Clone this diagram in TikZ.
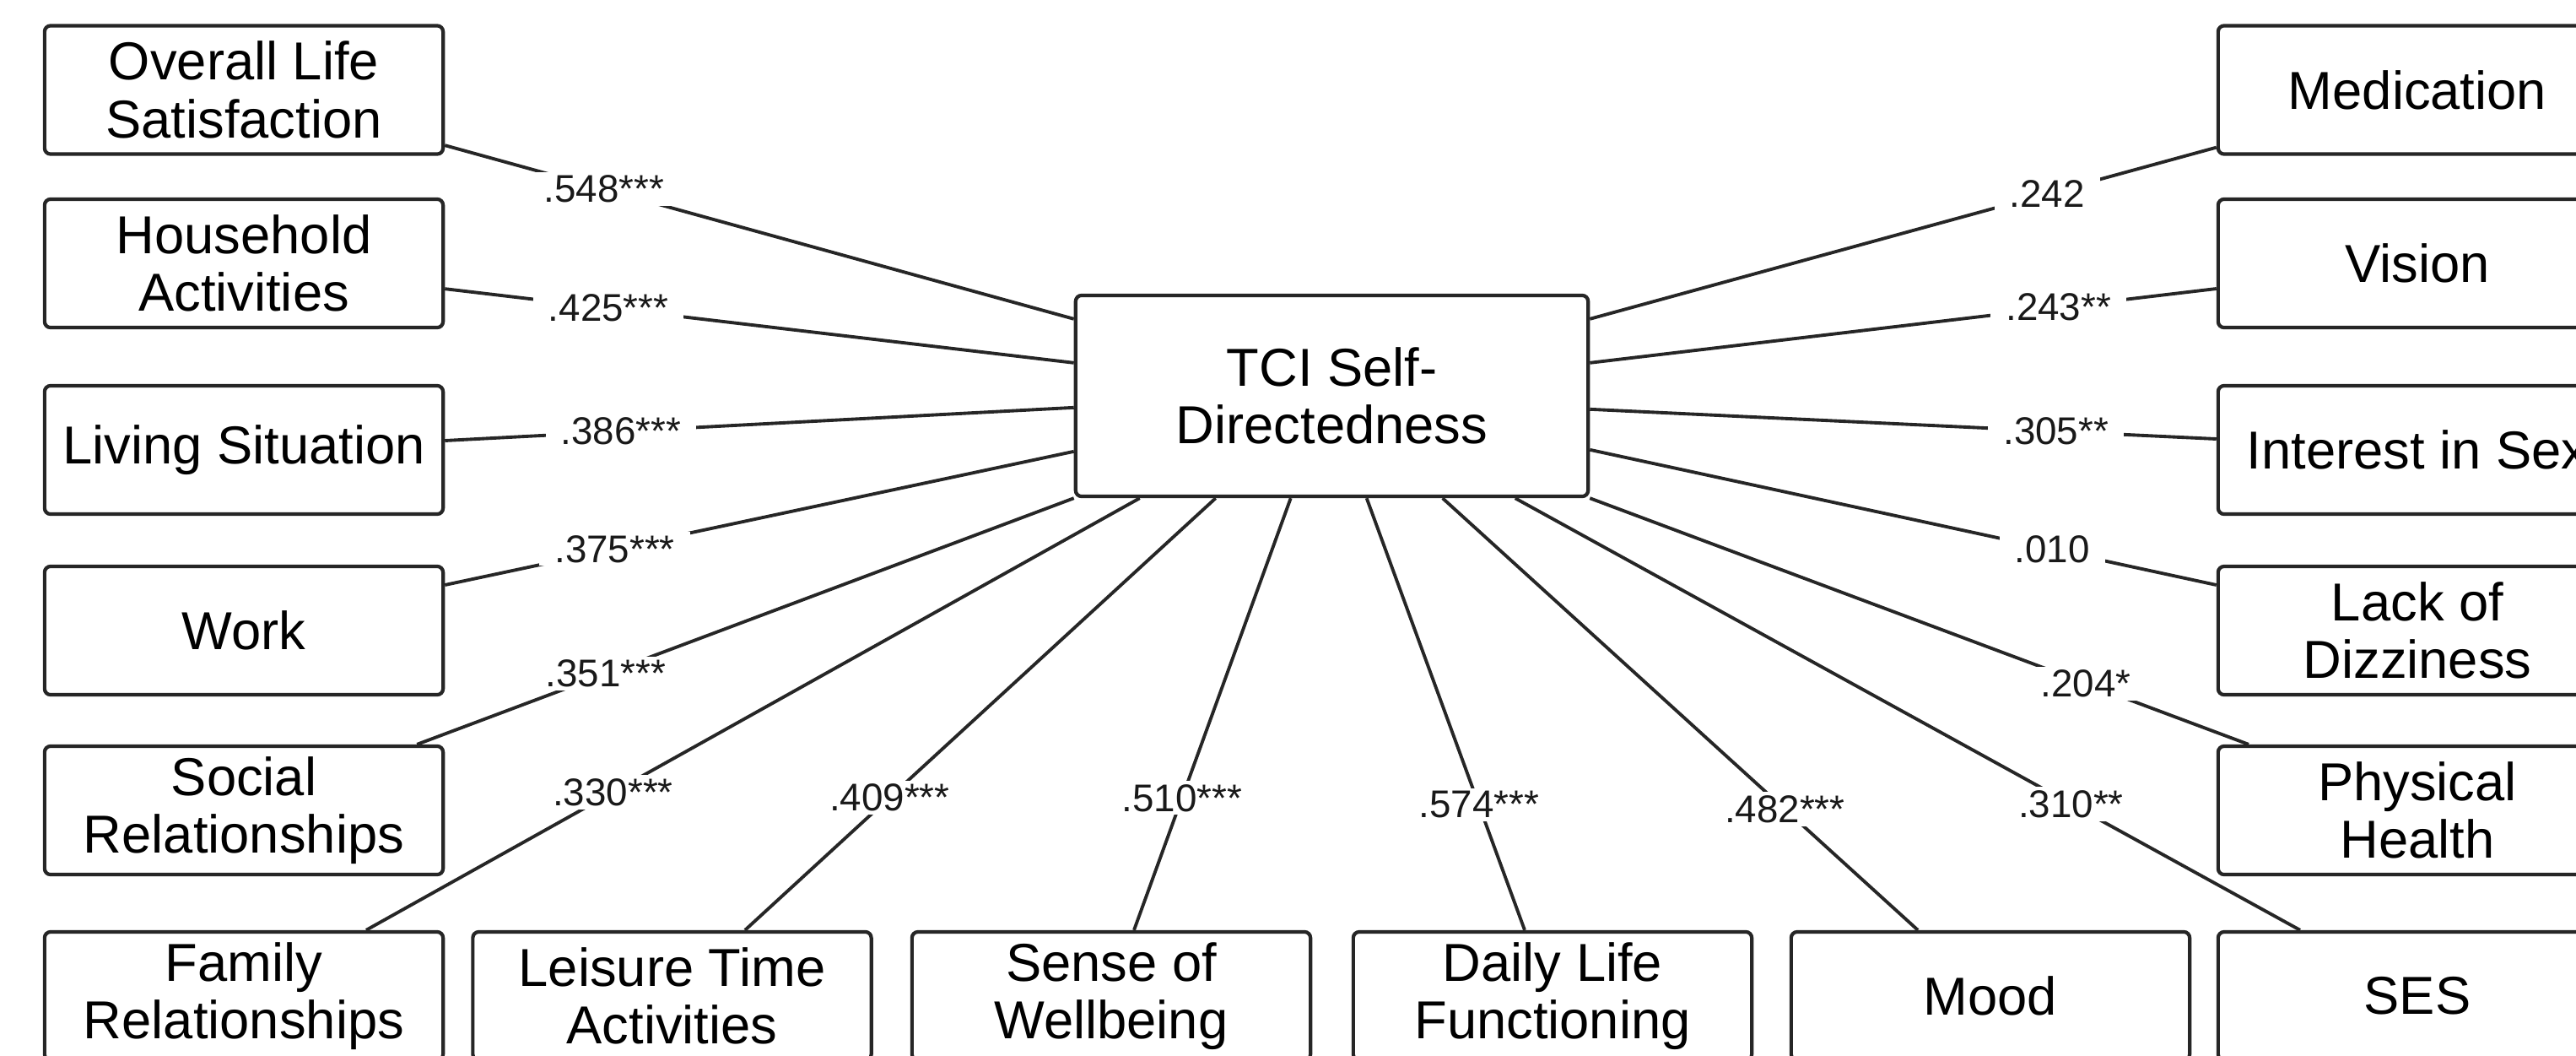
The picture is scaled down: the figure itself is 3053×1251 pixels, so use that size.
\documentclass[tikz,border=0pt]{standalone}
\usepackage{fontspec}
\setmainfont{Liberation Sans}
\usetikzlibrary{calc}
\begin{document}
\begin{tikzpicture}[x=0.01cm,y=-0.01cm,
  box/.style={draw=black!85, line width=1.2pt, rounded corners=2pt, fill=white,
    minimum width=4.72cm, minimum height=1.52cm, inner sep=0pt, align=center,
    font=\fontsize{18}{19.5}\selectfont},
  conn/.style={draw=black!85, line width=1.1pt},
  lbl/.style={fill=white, inner xsep=0.18cm, inner ysep=0.04cm,
    font=\fontsize{13}{14}\selectfont, text=black!90}]
\useasboundingbox (0,0) rectangle (3053,1251);
\fill[white] (0,0) rectangle (3053,1251);
\clip (0,0) rectangle (3053,1251);

% outer boxes
\node[box] (ol)  at (289,106.5) {Overall Life\\Satisfaction};
\node[box] (ha)  at (289,312)   {Household\\Activities};
\node[box] (ls)  at (289,533)   {Living Situation};
\node[box] (wk)  at (289,747)   {Work};
\node[box] (sr)  at (289,960)   {Social\\Relationships};
\node[box] (fr)  at (289,1180)  {Family\\Relationships};
\node[box] (lt)  at (796.5,1180) {Leisure Time\\Activities};
\node[box] (sw)  at (1317,1180) {Sense of\\Wellbeing};
\node[box] (dl)  at (1840,1180) {Daily Life\\Functioning};
\node[box] (mo)  at (2359,1180) {Mood};
\node[box] (ses) at (2865,1180) {SES};
\node[box] (med) at (2865,106.5) {Medication};
\node[box] (vis) at (2865,312)  {Vision};
\node[box] (sex) at (2865,533)  {Interest in Sex};
\node[box] (diz) at (2865,747)  {Lack of\\Dizziness};
\node[box] (phy) at (2865,960)  {Physical\\Health};

% central box
\node[box, minimum width=6.07cm, minimum height=2.38cm] (c) at (1578.5,469) {TCI Self-\\Directedness};

% attachment points on the central box
\coordinate (cl1) at ($(c.north west)+(0,30)$);
\coordinate (cl2) at ($(c.north west)+(0,82)$);
\coordinate (cl3) at ($(c.north west)+(0,135)$);
\coordinate (cl4) at ($(c.north west)+(0,187)$);
\coordinate (cr1) at ($(c.north east)+(0,30)$);
\coordinate (cr2) at ($(c.north east)+(0,82)$);
\coordinate (cr3) at ($(c.north east)+(0,137)$);
\coordinate (cr4) at ($(c.north east)+(0,185)$);
\coordinate (cb1) at ($(c.south west)+(78,0)$);
\coordinate (cb2) at ($(c.south west)+(168,0)$);
\coordinate (cb3) at ($(c.south west)+(257,0)$);
\coordinate (cb4) at ($(c.south west)+(347,0)$);
\coordinate (cb5) at ($(c.south west)+(437,0)$);
\coordinate (cb6) at ($(c.south west)+(523,0)$);

% connectors
\draw[conn] ($(ol.south east)+(0,-12.5)$) -- node[lbl,pos=0.253]{.548***} (cl1);
\draw[conn] ($(ha.south east)+(0,-48)$) -- node[lbl,pos=0.26]{.425***} (cl2);
\draw[conn] ($(ls.east)+(0,-11)$) -- node[lbl,pos=0.28]{.386***} (cl3);
\draw[conn] ($(wk.east)+(0,-54)$) -- node[lbl,pos=0.27]{.375***} (cl4);
\draw[conn] ($(sr.north east)+(-33,0)$) -- node[lbl,pos=0.287]{.351***} (c.south west);
\draw[conn] ($(fr.north)+(145,0)$) -- node[lbl,pos=0.319]{.330***} (cb1);
\draw[conn] ($(lt.north)+(86.5,0)$) -- node[lbl,pos=0.307]{.409***} (cb2);
\draw[conn] ($(sw.north)+(27,0)$) -- node[lbl,pos=0.306]{.510***} (cb3);
\draw[conn] ($(dl.north)+(-33,0)$) -- node[lbl,pos=0.29]{.574***} (cb4);
\draw[conn] ($(mo.north)+(-86,0)$) -- node[lbl,pos=0.28]{.482***} (cb5);
\draw[conn] ($(ses.north)+(-139,0)$) -- node[lbl,pos=0.292]{.310**} (cb6);
\draw[conn] ($(phy.north)+(-200,0)$) -- node[lbl,pos=0.247]{.204*} (c.south east);
\draw[conn] ($(diz.west)+(0,-54)$) -- node[lbl,pos=0.262]{.010} (cr4);
\draw[conn] ($(sex.west)+(0,-13)$) -- node[lbl,pos=0.256]{.305**} (cr3);
\draw[conn] ($(vis.west)+(0,30)$) -- node[lbl,pos=0.252]{.243**} (cr2);
\draw[conn] ($(med.south west)+(0,-10)$) -- node[lbl,pos=0.27]{.242} (cr1);
\end{tikzpicture}
\end{document}
